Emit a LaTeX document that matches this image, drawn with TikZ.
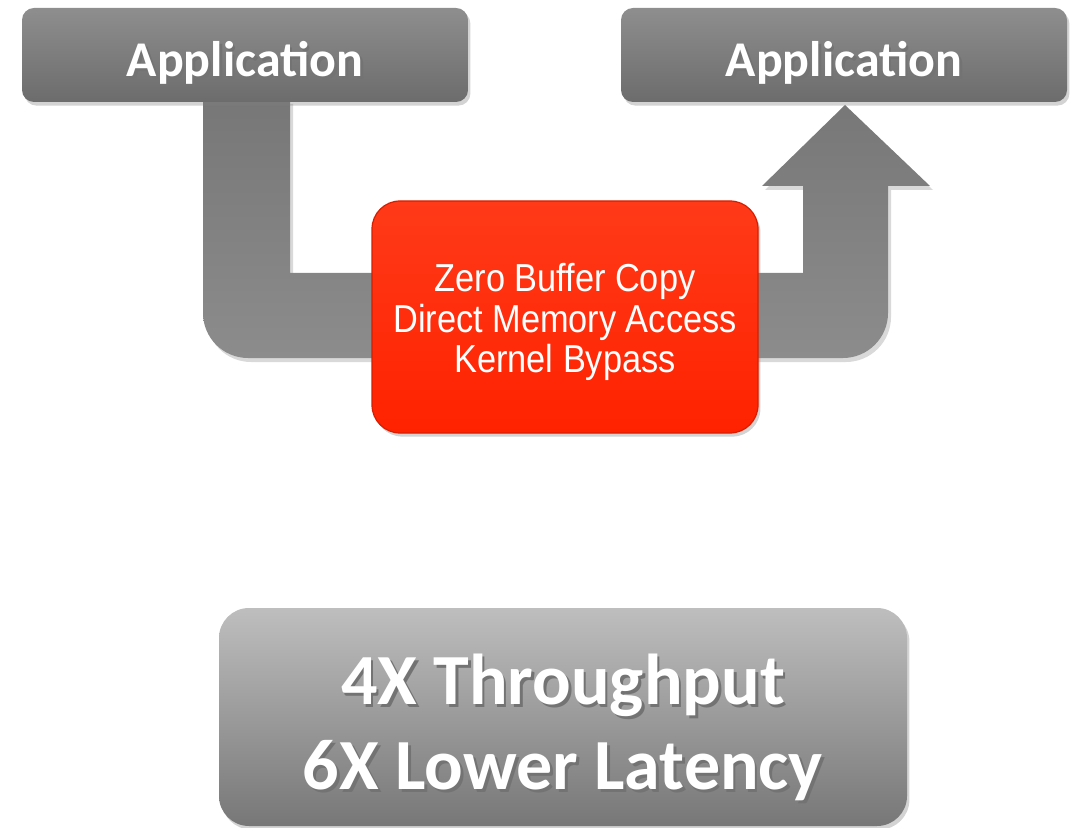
\documentclass[tikz,border=0pt]{standalone}
\usepackage{fontspec}
\usetikzlibrary{shadows}
\newfontfamily\carlito{Carlito}
\newfontfamily\redfont[FakeStretch=0.88]{Liberation Sans}
\definecolor{appTop}{HTML}{8E8E8E}
\definecolor{appBot}{HTML}{6C6C6C}
\definecolor{arrTop}{HTML}{777777}
\definecolor{arrBot}{HTML}{8C8C8C}
\definecolor{resTop}{HTML}{BEBEBE}
\definecolor{resBot}{HTML}{777777}
\definecolor{redTop}{HTML}{FF3A18}
\definecolor{redBot}{HTML}{FF2200}
\definecolor{redEdge}{HTML}{D81E00}
\newcommand\shd[1]{\leavevmode\rlap{\hspace{1.3pt}\raisebox{-1.3pt}{\color{black!55}#1}}#1}
\tikzset{
  appbox/.style={rectangle, rounded corners=6pt, top color=appTop, bottom color=appBot,
    minimum width=223pt, minimum height=47pt, inner sep=0pt, text=white,
    text height=22pt, text depth=0pt,
    font=\carlito\bfseries\fontsize{25}{30}\selectfont,
    drop shadow={opacity=0.35, shadow xshift=1.2pt, shadow yshift=-1.8pt}},
  redbox/.style={rectangle, rounded corners=14pt, top color=redTop, bottom color=redBot,
    draw=redEdge, line width=0.6pt,
    minimum width=193pt, minimum height=116pt, inner sep=0pt,
    drop shadow={opacity=0.35, shadow xshift=1.2pt, shadow yshift=-1.8pt}},
  redtext/.style={text=white, align=center, yshift=-2.5pt, inner sep=0pt,
    font=\redfont\fontsize{19.5}{20.3}\selectfont},
  resbox/.style={rectangle, rounded corners=15pt, top color=resTop, bottom color=resBot,
    minimum width=344pt, minimum height=109pt, inner sep=0pt,
    drop shadow={opacity=0.35, shadow xshift=1.2pt, shadow yshift=-1.8pt}},
  restext/.style={text=white, align=center, yshift=-6pt, inner sep=0pt,
    font=\carlito\bfseries\fontsize{36}{42.5}\selectfont},
  blockarrow/.style={top color=arrTop, bottom color=arrBot,
    drop shadow={opacity=0.3, shadow xshift=1.5pt, shadow yshift=-2pt}}
}
\begin{document}
\begin{tikzpicture}[x=0.5pt, y=-0.5pt]
\useasboundingbox (0,0) rectangle (1080,828);
% U-shaped block arrow
\path[blockarrow] (203,100) -- (203,313)
  .. controls (203,337.8) and (223.2,358) .. (248,358)
  -- (843,358)
  .. controls (867.8,358) and (888,337.8) .. (888,313)
  -- (888,186) -- (930,186) -- (845,105) -- (762,186) -- (803,186)
  -- (803,273) -- (290,273) -- (290,100) -- cycle;
% boxes
\node[appbox] (app1) at (245,55) {\shd{Application}};
\node[appbox] (app2) at (844,55) {\shd{Application}};
\node[redbox, label={[redtext]center:{Zero Buffer Copy\\Direct Memory Access\\Kernel Bypass}}] (core) at (565,317) {};
\node[resbox, label={[restext]center:{\shd{4X Throughput}\\\shd{6X Lower Latency}}}] (result) at (563,717) {};
\end{tikzpicture}
\end{document}
